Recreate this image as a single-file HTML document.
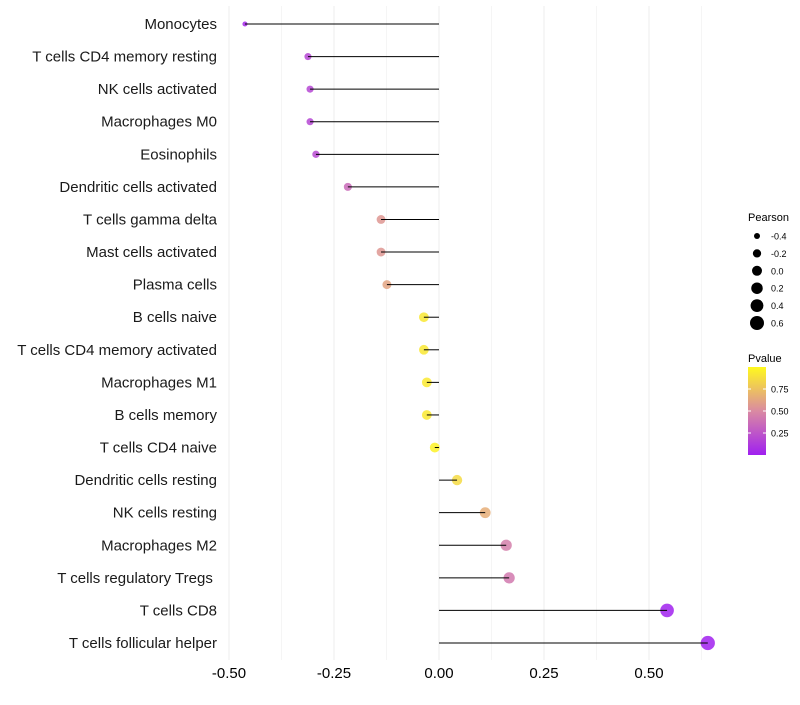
<!DOCTYPE html>
<html><head><meta charset="utf-8"><style>
body{margin:0;background:#fff;font-family:"Liberation Sans",sans-serif}
</style></head><body>
<svg id="chart" width="800" height="700" xmlns="http://www.w3.org/2000/svg" font-family="Liberation Sans, sans-serif">
<g id="grid"></g>
<g id="ylab"></g>
<g id="xlab"></g>
<g id="marks"></g>
<g id="stems"></g>
<g id="legend"></g>
</svg>
<script>
const categories=["Monocytes","T cells CD4 memory resting","NK cells activated","Macrophages M0","Eosinophils","Dendritic cells activated","T cells gamma delta","Mast cells activated","Plasma cells","B cells naive","T cells CD4 memory activated","Macrophages M1","B cells memory","T cells CD4 naive","Dendritic cells resting","NK cells resting","Macrophages M2","T cells regulatory  Tregs\u00a0","T cells CD8","T cells follicular helper"];
const pearson=[-0.462,-0.312,-0.307,-0.307,-0.293,-0.217,-0.138,-0.138,-0.124,-0.036,-0.036,-0.029,-0.029,-0.01,0.043,0.11,0.16,0.167,0.543,0.64];
const pvalues=[0.04,0.18,0.18,0.18,0.2,0.35,0.56,0.56,0.62,0.92,0.92,0.93,0.93,0.97,0.86,0.66,0.45,0.42,0.01,0.005];
const xTicks=[-0.5,-0.25,0,0.25,0.5];
const xTickLabels=["-0.50","-0.25","0.00","0.25","0.50"];
const xMinor=[-0.375,-0.125,0.125,0.375,0.625];
const sizeLegend=[-0.4,-0.2,0.0,0.2,0.4,0.6];
const sizeLegendLabels=["-0.4","-0.2","0.0","0.2","0.4","0.6"];
const colorTicks=[0.25,0.5,0.75];
const colorTickLabels=["0.25","0.50","0.75"];

const NS="http://www.w3.org/2000/svg";
const X=v=>439+v*420;
const Y=i=>24+i*(643-24)/19;
const R=v=>Math.sqrt(Math.max(3,9+40*(v+0.4)));
function hex(h){return [1,3,5].map(i=>parseInt(h.substr(i,2),16));}
const stops=[[0,hex("#A020F0")],[0.5,hex("#DA8AA2")],[1,hex("#FFF91E")]];
function col(p){for(let k=0;k<stops.length-1;k++){const a=stops[k],b=stops[k+1];if(p<=b[0]){const t=(p-a[0])/(b[0]-a[0]);return "rgb("+a[1].map((c,j)=>Math.round(c+(b[1][j]-c)*t)).join(",")+")";}}return "rgb(255,249,30)";}
function mk(tag,attrs,parent){const e=document.createElementNS(NS,tag);for(const k in attrs)e.setAttribute(k,attrs[k]);parent.appendChild(e);return e;}
const grid=document.getElementById('grid');
xMinor.forEach(v=>{const l=mk('line',{x1:X(v),x2:X(v),y1:6,y2:660,stroke:'#f5f5f5','stroke-width':1},grid);

});
xTicks.forEach(v=>{const l=mk('line',{x1:X(v),x2:X(v),y1:6,y2:660,stroke:'#ededed','stroke-width':1},grid);

});
const xl=document.getElementById('xlab');
xTicks.forEach((v,i)=>{const t=mk('text',{x:X(v),y:678,'text-anchor':'middle','font-size':15,fill:'#000'},xl);t.textContent=xTickLabels[i];

});
const yl=document.getElementById('ylab'),mg=document.getElementById('marks'),sg=document.getElementById('stems');
categories.forEach((c,i)=>{const t=mk('text',{x:217,y:Y(i)+5,'text-anchor':'end','font-size':15,fill:'#1a1a1a'},yl);t.textContent=c;


const p=mk('circle',{cx:X(pearson[i]),cy:Y(i),r:R(pearson[i]),fill:col(pvalues[i]),'fill-opacity':0.85},mg);


const l=mk('line',{x1:X(0),x2:X(pearson[i]),y1:Y(i),y2:Y(i),stroke:'#000','stroke-width':1},sg);

});
const lg=document.getElementById('legend');
let t=mk('text',{x:748,y:221,'font-size':11},lg);t.textContent="Pearson";


sizeLegend.forEach((v,i)=>{const y=236+i*17.4;const c=mk('circle',{cx:757,cy:y,r:R(v),fill:'#000'},lg);


const tx=mk('text',{x:771,y:y+3.5,'font-size':9},lg);tx.textContent=sizeLegendLabels[i];

});
t=mk('text',{x:748,y:362,'font-size':11},lg);t.textContent="Pvalue";


const defs=mk('defs',{},lg);const gr=mk('linearGradient',{id:'pg',x1:0,y1:1,x2:0,y2:0},defs);
stops.forEach(s=>mk('stop',{offset:s[0],'stop-color':'rgb('+s[1].join(',')+')'},gr));
const PY=p=>455-p*88;
const bar=mk('rect',{x:748,y:PY(1),width:18,height:88,fill:'url(#pg)'},lg);


colorTicks.forEach((v,i)=>{mk('line',{x1:748,x2:751,y1:PY(v),y2:PY(v),stroke:'#fff'},lg);mk('line',{x1:763,x2:766,y1:PY(v),y2:PY(v),stroke:'#fff'},lg);
const tx=mk('text',{x:771,y:PY(v)+3.5,'font-size':9},lg);tx.textContent=colorTickLabels[i];

});
</script>
</body></html>
